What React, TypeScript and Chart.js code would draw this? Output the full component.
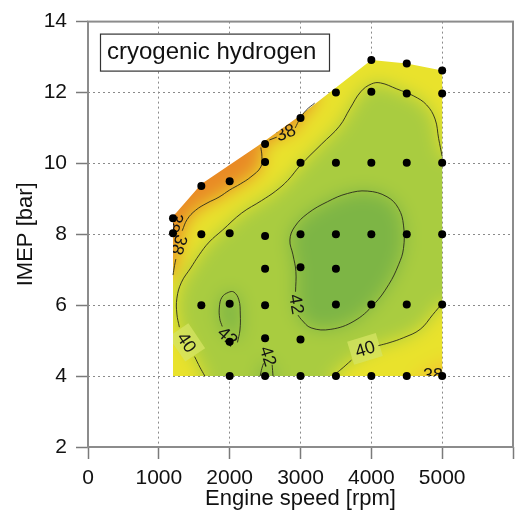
import React, { useEffect, useRef } from 'react';
import { Chart, registerables } from 'chart.js';

Chart.register(...registerables);

const FONT = '"Liberation Sans", Arial, Helvetica, sans-serif';

// ---- axis ticks ----
const speedTicks = [0, 1000, 2000, 3000, 4000, 5000, 6000];
const imepTicks = [2, 4, 6, 8, 10, 12, 14];

// ---- measured operating points (engine speed [rpm], IMEP [bar]) ----
const pointSpeed = [
  2000, 2500, 3000, 3500, 4000, 4500, 5000,
  2000, 2500, 3000,
  1600, 2000, 2500, 3500, 4000, 4500, 5000,
  2500, 3000, 3500,
  1200, 1600, 2000, 2500, 3000, 3500, 4000, 4500, 5000,
  1200, 1600, 2000,
  2500, 3000, 3500, 4000, 4500, 5000,
  2500, 3000,
  3500, 4000, 4500, 5000,
  4000, 4500, 5000,
];
const pointImep = [
  4, 4, 4, 4, 4, 4, 4,
  4.97, 5.07, 5.03,
  6.0, 6.04, 6.0, 6.02, 6.02, 6.02, 6.02,
  7.03, 7.07, 7.03,
  8.03, 8.0, 8.03, 7.95, 8.0, 8.0, 8.0, 8.0, 8.0,
  8.45, 9.36, 9.5,
  10.04, 10.02, 10.02, 10.02, 10.02, 10.02,
  10.55, 11.28,
  12.0, 12.02, 11.97, 11.97,
  12.92, 12.82, 12.62,
];

// ---- measured map boundary ----
const hullSpeed = [1200, 5000, 5000, 4500, 4000, 3000, 2400, 1600, 1200];
const hullImep = [4, 4, 12.62, 12.82, 12.92, 11.36, 10.5, 9.42, 8.5];

type P = [number, number];
const c38a: P[] = [[1200, 6.85], [1222, 7.12], [1240, 7.3]];
const c38b: P[] = [[1330, 8.1], [1400, 8.42], [1520, 8.68], [1680, 8.88], [1850, 9.05], [2000, 9.25], [2150, 9.42], [2300, 9.62], [2440, 9.9], [2455, 10.2], [2440, 10.45]];
const c38c: P[] = [[2560, 10.66], [2665, 10.74]];
const c38d: P[] = [[2925, 11.0], [2990, 11.25], [3080, 11.5], [3200, 11.7]];

const c40a: P[] = [[1650, 4.0], [1580, 4.25], [1505, 4.55]];
const c40b: P[] = [[1290, 5.38], [1255, 5.75], [1255, 6.2], [1320, 6.65], [1450, 7.05], [1570, 7.42], [1710, 7.78], [1900, 8.12], [2170, 8.6], [2450, 8.95], [2650, 9.22], [2820, 9.52], [3000, 9.95], [3300, 10.55], [3550, 11.05], [3700, 11.55], [3850, 12.02], [4000, 12.24], [4130, 12.27], [4360, 12.1], [4600, 11.9], [4780, 11.65], [4900, 11.25], [4950, 10.7], [5000, 10.2]];
const c40c: P[] = [[3450, 4.0], [3560, 4.17], [3720, 4.45]];
const c40d: P[] = [[4100, 4.86], [4250, 4.94], [4450, 5.08], [4690, 5.32], [4870, 5.74], [5000, 6.05]];

const c42big: P[] = [[2930, 6.38], [2935, 6.95], [2894, 7.42], [2850, 7.84], [2917, 8.21], [3103, 8.59], [3382, 8.92], [3662, 9.15], [3943, 9.22], [4221, 9.06], [4384, 8.73], [4454, 8.26], [4454, 7.6], [4384, 7.14], [4245, 6.58], [4035, 6.02], [3755, 5.55], [3429, 5.32], [3150, 5.36], [3010, 5.6], [2965, 5.72]];
const c42small: P[] = [[2110, 4.95], [2145, 5.3], [2150, 5.75], [2130, 6.15], [2060, 6.37], [1980, 6.36], [1890, 6.22], [1855, 5.95], [1860, 5.62], [1895, 5.4]];
const c42edgeA: P[] = [[2430, 4.0], [2455, 4.22], [2478, 4.36]];
const c42edgeB: P[] = [[2600, 4.32], [2612, 4.0]];
const c38corner: P[] = [[4650, 4.0], [4850, 4.18], [5000, 4.38]];

// ---- contour labels ----
const labelText = ['38', '38', '38', '38', '40', '40', '42', '42', '42'];
const labelSpeed = [1285, 1228, 2790, 4870, 1395, 3910, 2945, 1972, 2545];
const labelImep = [7.7, 8.33, 10.87, 4.03, 4.95, 4.77, 6.03, 5.12, 4.56];
const labelAngle = [108, 108, -22, 0, 56, -17, 80, 42, 72];

// ---- colours ----
const colBase = '#e9e22c';
const colLow = '#e98a25';
const colCorner = '#f3c22e';
const col40 = '#a9cc40';
const col42 = '#7db545';

const rev = (a: P[]) => [...a].reverse();

const low38Poly: P[] = [...c38a, ...c38b, ...c38c, ...c38d, [3200, 14], [0, 14], [0, 6.85]];
const corner38Poly: P[] = [...c38corner, [6000, 4.38], [6000, 2], [4650, 2]];
const high40Poly: P[] = [...c40a, ...c40b, [6000, 10.2], [6000, 6.05], ...rev(c40d), ...rev(c40c), [3450, 2], [1650, 2]];
const edge42Poly: P[] = [...c42edgeA, ...c42edgeB, [2612, 2], [2430, 2]];

const contourSegments: P[][] = [c38a, c38b, c38c, c38d, c40a, c40b, c40c, c40d, c42big, c42small, c42edgeA, c42edgeB];

const fieldPlugin = {
  id: 'contourField',
  beforeDatasetsDraw(chart: any) {
    const { ctx, scales } = chart;
    const xs = scales.x;
    const ys = scales.y;
    const toPx = (p: P) => [xs.getPixelForValue(p[0]), ys.getPixelForValue(p[1])];
    const trace = (c: CanvasRenderingContext2D, pts: P[]) => {
      c.beginPath();
      pts.forEach((p, i) => {
        const [a, b] = toPx(p);
        if (i === 0) c.moveTo(a, b);
        else c.lineTo(a, b);
      });
      c.closePath();
    };
    const hull: P[] = hullSpeed.map((s, i) => [s, hullImep[i]] as P);

    const off = document.createElement('canvas');
    off.width = chart.width;
    off.height = chart.height;
    const o = off.getContext('2d') as CanvasRenderingContext2D;
    o.fillStyle = colBase;
    o.fillRect(0, 0, off.width, off.height);
    const layers: [P[], string][] = [
      [low38Poly, colLow],
      [corner38Poly, colCorner],
      [high40Poly, col40],
      [c42big, col42],
      [c42small, col42],
      [edge42Poly, col42],
    ];
    layers.forEach(([pts, col]) => {
      trace(o, pts);
      o.fillStyle = col;
      o.fill();
    });

    ctx.save();
    trace(ctx, hull);
    ctx.clip();
    ctx.filter = 'blur(9px)';
    ctx.drawImage(off, 0, 0);
    ctx.filter = 'none';

    ctx.font = `18px ${FONT}`;
    ctx.textAlign = 'center';
    ctx.textBaseline = 'middle';
    labelText.forEach((t, i) => {
      const [a, b] = toPx([labelSpeed[i], labelImep[i]]);
      ctx.save();
      ctx.translate(a, b);
      ctx.rotate((labelAngle[i] * Math.PI) / 180);
      if (t === '40') {
        ctx.fillStyle = 'rgba(214,228,100,0.75)';
        ctx.fillRect(-15, -12, 30, 24);
      }
      ctx.fillStyle = '#151515';
      ctx.fillText(t, 0, 1);
      ctx.restore();
    });
    ctx.restore();
  },
  afterDraw(chart: any) {
    const { ctx, chartArea } = chart;
    ctx.save();
    ctx.strokeStyle = '#8c8c8c';
    ctx.lineWidth = 2;
    ctx.strokeRect(chartArea.left, chartArea.top, chartArea.right - chartArea.left, chartArea.bottom - chartArea.top);
    // legend box
    const bx = chartArea.left + 12;
    const by = chartArea.top + 12;
    ctx.fillStyle = '#ffffff';
    ctx.fillRect(bx, by, 229, 37);
    ctx.strokeStyle = '#333333';
    ctx.lineWidth = 1.2;
    ctx.strokeRect(bx + 0.5, by + 0.5, 229, 37);
    ctx.fillStyle = '#111111';
    ctx.font = `24px ${FONT}`;
    ctx.textAlign = 'left';
    ctx.textBaseline = 'middle';
    ctx.fillText('cryogenic hydrogen', bx + 7, by + 19);
    ctx.restore();
  },
};

export default function App() {
  const canvasRef = useRef<HTMLCanvasElement | null>(null);

  useEffect(() => {
    const canvas = canvasRef.current;
    if (!canvas) return;
    const datasets: any[] = [
      {
        type: 'scatter',
        data: pointSpeed.map((s, i) => ({ x: s, y: pointImep[i] })),
        pointRadius: 4,
        pointBackgroundColor: '#000000',
        pointBorderWidth: 0,
        borderWidth: 0,
      },
      ...contourSegments.map((seg) => ({
        type: 'line',
        data: seg.map((p) => ({ x: p[0], y: p[1] })),
        borderColor: '#2a2a1c',
        borderWidth: 0.9,
        pointRadius: 0,
        tension: 0.4,
        fill: false,
      })),
    ];
    const chart = new Chart(canvas, {
      type: 'scatter',
      data: { datasets },
      options: {
        responsive: false,
        animation: false,
        devicePixelRatio: 1,
        layout: { padding: { left: 0, top: 19, right: 2, bottom: 0 } },
        plugins: { legend: { display: false }, tooltip: { enabled: false } },
        scales: {
          x: {
            type: 'linear',
            min: 0,
            max: 6000,
            afterBuildTicks: (s: any) => { s.ticks = speedTicks.map((v) => ({ value: v })); },
            afterFit: (s: any) => { s.height = 65; },
            ticks: {
              autoSkip: false,
              maxRotation: 0,
              padding: 7,
              color: '#111111',
              font: { family: FONT, size: 21 },
              callback: (v: any) => (v === 6000 ? '' : String(v)),
            },
            grid: { color: '#8a8a8a', lineWidth: 1, tickLength: 12, tickColor: '#7a7a7a', tickWidth: 1.5 },
            border: { display: false, dash: [2, 3] },
            title: { display: true, text: 'Engine speed [rpm]', color: '#111111', font: { family: FONT, size: 22 }, padding: { top: 0, bottom: 0 } },
          },
          y: {
            type: 'linear',
            min: 2,
            max: 14,
            afterBuildTicks: (s: any) => { s.ticks = imepTicks.map((v) => ({ value: v })); },
            afterFit: (s: any) => { s.width = 88; },
            ticks: {
              padding: 9,
              color: '#111111',
              font: { family: FONT, size: 21 },
            },
            grid: { color: '#8a8a8a', lineWidth: 1, tickLength: 12, tickColor: '#7a7a7a', tickWidth: 1.5 },
            border: { display: false, dash: [2, 3] },
            title: { display: true, text: 'IMEP [bar]', color: '#111111', font: { family: FONT, size: 22 }, padding: { top: 13, bottom: 0 } },
          },
        },
      },
      plugins: [fieldPlugin],
    } as any);
    return () => chart.destroy();
  }, []);

  return (
    <div style={{ position: 'absolute', left: 0, top: 0, width: 520, height: 512, background: '#ffffff' }}>
      <canvas ref={canvasRef} width={520} height={512} style={{ display: 'block', width: 520, height: 512 }} />
    </div>
  );
}
